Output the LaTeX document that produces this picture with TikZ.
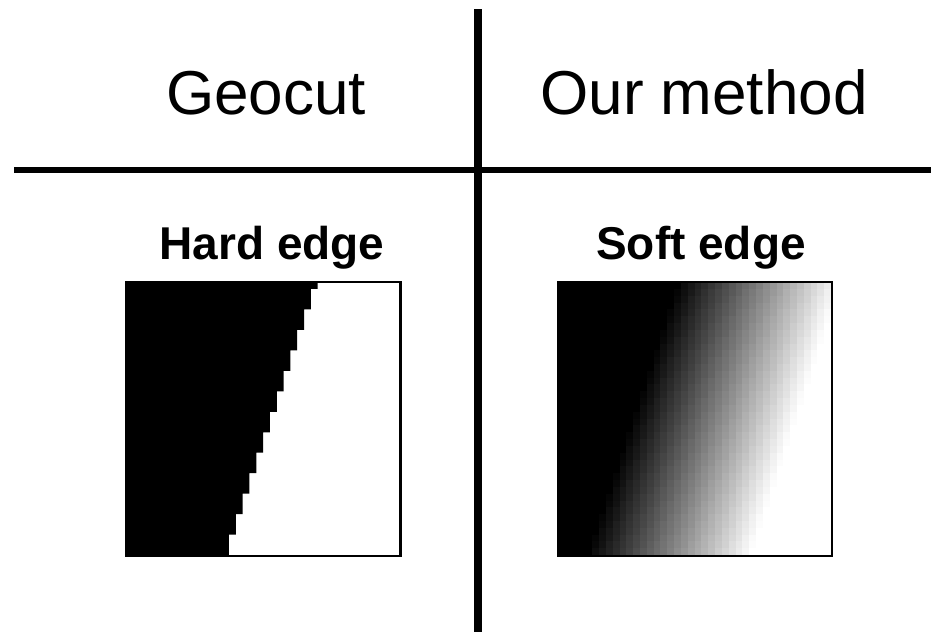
\documentclass[tikz,border=0pt]{standalone}
\usepackage{fontspec}
\setmainfont{Liberation Sans}
\usepackage{xcolor}

\begin{document}
\begin{tikzpicture}[
  x=0.5pt, y=-0.5pt,
  every node/.style={inner sep=0pt},
  headtext/.style={anchor=base, font=\fontsize{31}{36}\selectfont},
  labeltext/.style={anchor=base, font=\fontsize{23}{28}\selectfont\bfseries},
  imgbox/.style={minimum width=136.5pt, minimum height=136.5pt},
  rule/.style={line width=#1},
]

\useasboundingbox (0,0) rectangle (931,632);

% table rules
\coordinate (vtop) at (478,9);
\coordinate (vbot) at (478,632);
\coordinate (hleft) at (14,170);
\coordinate (hright) at (931,170);
\draw[rule=4pt] (vtop) -- (vbot);
\draw[rule=3pt] (hleft) -- (hright);

\node[headtext] (geocut) at (266,114) {Geocut};
\node[headtext] (ours) at (704,114) {Our method};

\node[labeltext] (hardlbl) at (272,259) {Hard edge};
\node[labeltext] (softlbl) at (701,259) {Soft edge};

\node[imgbox] (hard) at (263.5,419) {};
\node[imgbox] (soft) at (695,419) {};

% hard edge: staircase, one column per three rows
\def\c{6.825}
\fill[black] (hard.north west) -- ++(28*\c,0) -- ++(0,\c)
  \foreach \k in {1,...,13} { -- ++(-\c,0) -- ++(0,3*\c) }
  -- (hard.south west) -- cycle;
\draw[line width=1.2pt] (hard.north west) rectangle (hard.south east);

% soft edge: 40x40 grey cells along a slanted ramp
\foreach \j in {0,...,39} {
  \foreach \i in {0,...,39} {
    \pgfmathsetmacro\v{max(0,min(1,(\i+0.5-(29.5-13*\j/39))/24+0.5))}
    \pgfmathtruncatemacro\g{100*(1-\v)}
    \fill[black!\g] ([shift={(\i*\c,\j*\c)}]soft.north west) rectangle ++(\c+0.4,\c+0.4);
  }
}
\draw[line width=1.2pt] (soft.north west) rectangle (soft.south east);

\end{tikzpicture}
\end{document}
